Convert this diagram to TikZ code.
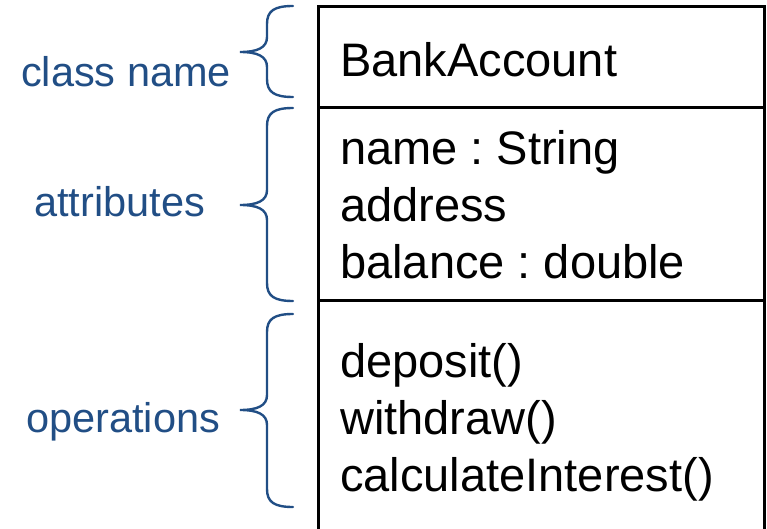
\documentclass[tikz,border=0pt]{standalone}
\usepackage{fontspec}
\setmainfont{Liberation Sans}
\frenchspacing
\definecolor{lblue}{RGB}{33,78,133}
\newcommand\bracefrom[3]{%
  \draw[bracestyle] (293,#1) .. controls (274,#1) and (267,#1+5) .. (267,#1+18)
    -- (267,#2-15) .. controls (267,#2-4) and (257,#2) .. (240,#2)
    .. controls (257,#2) and (267,#2+4) .. (267,#2+15)
    -- (267,#3-18) .. controls (267,#3-5) and (274,#3) .. (293,#3);}
\begin{document}
\begin{tikzpicture}[x=1pt,y=-1pt,
  boxline/.style={line width=3pt,draw=black},
  bracestyle/.style={line width=2.4pt,draw=lblue,line cap=round},
  maintext/.style={anchor=base west,inner sep=0pt,font=\fontsize{47}{56}\selectfont\frenchspacing,text=black},
  lbltext/.style={anchor=base west,inner sep=0pt,font=\fontsize{41.5}{50}\selectfont,text=lblue}]
\useasboundingbox (0,0) rectangle (767,529);
\begin{scope}
\clip (0,0) rectangle (767,529);
\draw[boxline] (318,540) -- (318,7) -- (764,7) -- (764,540);
\draw[boxline] (318,108) -- (764,108);
\draw[boxline] (318,300) -- (764,300);
\end{scope}
\node[maintext] (cls) at (340,77) {BankAccount};
\node[maintext] (a1) at (340,165) {name : String};
\node[maintext] (a2) at (340,222) {address};
\node[maintext] (a3) at (340,278) {balance : double};
\node[maintext] (o1) at (340,377) {deposit()};
\node[maintext] (o2) at (340,434) {withdraw()};
\node[maintext] (o3) at (340,491) {calculateInterest()};
\node[lbltext] (lc) at (21,87) {class name};
\node[lbltext] (la) at (34,216) {attributes};
\node[lbltext] (lo) at (26,432) {operations};
\bracefrom{6}{52}{97}
\bracefrom{108}{205}{301}
\bracefrom{314}{410}{507}
\end{tikzpicture}
\end{document}
